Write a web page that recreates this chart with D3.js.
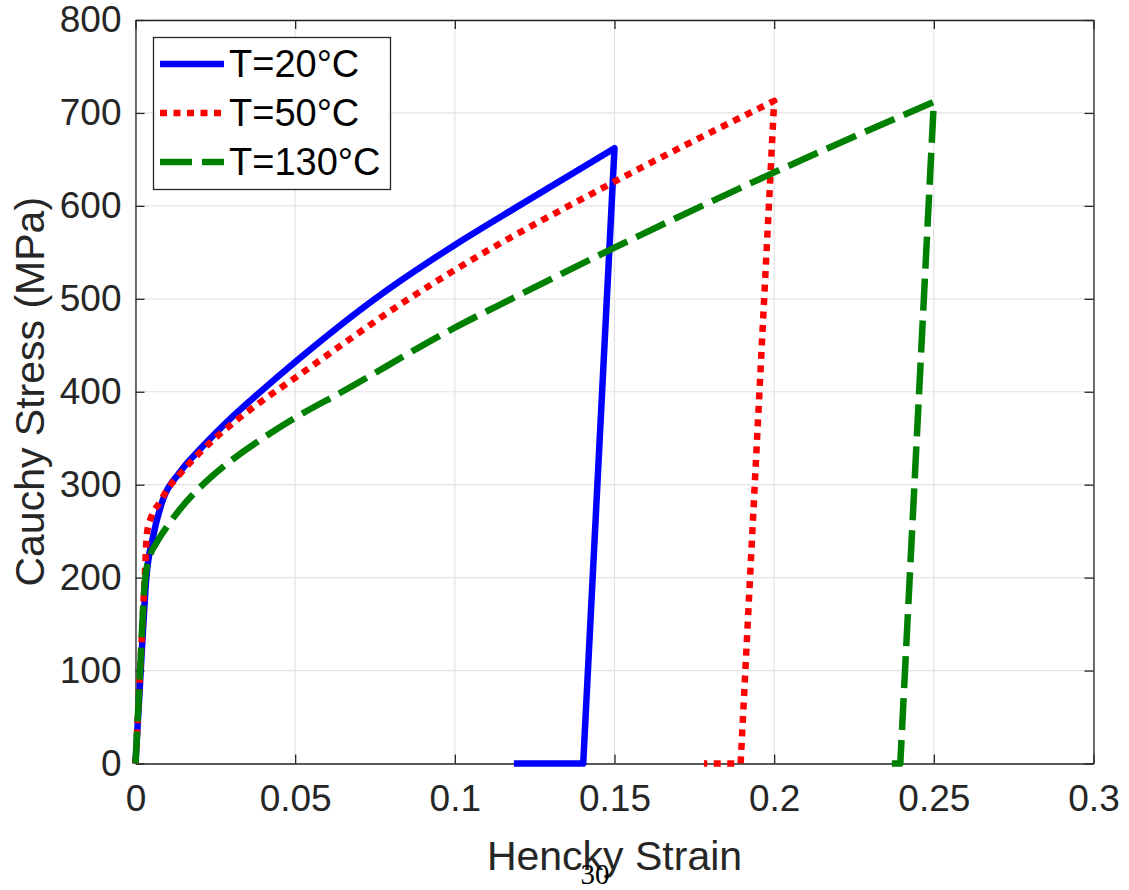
<!DOCTYPE html>
<html>
<head>
<meta charset="utf-8">
<script src="https://cdn.jsdelivr.net/npm/d3@7"></script>
<style>
  html, body { margin: 0; padding: 0; background: #ffffff; }
  svg { display: block; }
</style>
</head>
<body>
<script>
// ---------------- data ----------------
const xTicks = [0, 0.05, 0.1, 0.15, 0.2, 0.25, 0.3];
const xTickLabels = ["0", "0.05", "0.1", "0.15", "0.2", "0.25", "0.3"];
const yTicks = [0, 100, 200, 300, 400, 500, 600, 700, 800];
const yTickLabels = ["0", "100", "200", "300", "400", "500", "600", "700", "800"];

const seriesNames = ["T=20°C", "T=50°C", "T=130°C"];

// loading branch up to the peak, then unloading points
const strain20 = [0, 0.0018, 0.0034, 0.0055, 0.0086, 0.0138, 0.021, 0.0294, 0.0388, 0.05, 0.075, 0.1, 0.12, 0.15, 0.1402, 0.1185];
const stress20 = [0, 110, 200, 244, 284, 313, 341, 370, 399, 432, 500, 558, 600, 662, 0, 0];

const strain50 = [0, 0.0016, 0.0029, 0.0036, 0.005, 0.0076, 0.01, 0.0133, 0.02, 0.0315, 0.0388, 0.05, 0.0856, 0.1, 0.15, 0.2, 0.1895, 0.178];
const stress50 = [0, 110, 201, 248, 266, 281, 295, 309, 334, 369, 388, 415, 500, 531, 626, 713, 0, 0];

const strain130 = [0, 0.0013, 0.003, 0.0045, 0.0065, 0.0097, 0.0138, 0.022, 0.0315, 0.0377, 0.05, 0.0647, 0.1, 0.1178, 0.15, 0.2, 0.25, 0.2395, 0.2365];
const stress130 = [0, 90, 198, 223, 237, 254, 273, 303, 330, 345, 372, 400, 469, 500, 555, 636, 712, 0, 0];

const seriesColors = ["#0000ff", "#ff0000", "#008000"];
const seriesDash = [null, "7,6.5", "32,10"];

// ---------------- layout ----------------
const W = 1129, H = 890;
const mLeft = 135.5, mRight = 1093.5, mTop = 20, mBottom = 763.5;
const textColor = "#262626";
const font = "'Liberation Sans', Arial, Helvetica, sans-serif";

const svg = d3.select("body").append("svg")
  .attr("width", W).attr("height", H)
  .attr("viewBox", `0 0 ${W} ${H}`);

const x = d3.scaleLinear().domain([0, 0.3]).range([mLeft, mRight]);
const y = d3.scaleLinear().domain([0, 800]).range([mBottom, mTop]);

// grid
const grid = svg.append("g");
grid.selectAll("line.gx").data(xTicks).enter().append("line")
  .attr("x1", d => x(d)).attr("x2", d => x(d))
  .attr("y1", mTop).attr("y2", mBottom)
  .attr("stroke", "#e3e3e3").attr("stroke-width", 1.2);
grid.selectAll("line.gy").data(yTicks).enter().append("line")
  .attr("x1", mLeft).attr("x2", mRight)
  .attr("y1", d => y(d)).attr("y2", d => y(d))
  .attr("stroke", "#e3e3e3").attr("stroke-width", 1.2);

// axes (ticks inward)
const tickLen = 9;
const xAxis = d3.axisBottom(x).tickValues(xTicks)
  .tickFormat((d, i) => xTickLabels[i]).tickSizeInner(-tickLen).tickSizeOuter(0).tickPadding(21);
const yAxis = d3.axisLeft(y).tickValues(yTicks)
  .tickFormat((d, i) => yTickLabels[i]).tickSizeInner(-tickLen).tickSizeOuter(0).tickPadding(14);
const xTopAxis = d3.axisTop(x).tickValues(xTicks).tickFormat("").tickSizeInner(-tickLen).tickSizeOuter(0);
const yRightAxis = d3.axisRight(y).tickValues(yTicks).tickFormat("").tickSizeInner(-tickLen).tickSizeOuter(0);

function styleAxis(g) {
  g.selectAll("path").attr("stroke", textColor).attr("stroke-width", 1.3);
  g.selectAll("line").attr("stroke", textColor).attr("stroke-width", 1.3);
  g.selectAll("text").attr("fill", textColor).style("font-family", font).style("font-size", "37px");
}

svg.append("g").attr("transform", `translate(0,${mBottom})`).call(xAxis).call(styleAxis);
svg.append("g").attr("transform", `translate(${mLeft},0)`).call(yAxis).call(styleAxis);
svg.append("g").attr("transform", `translate(0,${mTop})`).call(xTopAxis).call(styleAxis);
svg.append("g").attr("transform", `translate(${mRight},0)`).call(yRightAxis).call(styleAxis);

// series
const seriesData = [
  strain20.map((s, i) => [s, stress20[i]]),
  strain50.map((s, i) => [s, stress50[i]]),
  strain130.map((s, i) => [s, stress130[i]])
];
const smooth = d3.line().x(d => x(d[0])).y(d => y(d[1])).curve(d3.curveMonotoneX);

function seriesPath(data) {
  // peak = point of largest strain; loading branch smooth, unloading straight
  let peak = 0;
  data.forEach((d, i) => { if (d[0] > data[peak][0]) peak = i; });
  const load = data.slice(0, peak + 1);
  const unload = data.slice(peak + 1);
  return smooth(load) + unload.map(d => `L${x(d[0])},${y(d[1])}`).join("");
}

seriesData.forEach((data, i) => {
  const p = svg.append("path")
    .attr("d", seriesPath(data))
    .attr("fill", "none")
    .attr("stroke", seriesColors[i])
    .attr("stroke-width", 6.5)
    .attr("stroke-linejoin", "round")
    .attr("stroke-linecap", "butt");
  if (seriesDash[i]) p.attr("stroke-dasharray", seriesDash[i]);
});

// axis labels
svg.append("text")
  .attr("x", (mLeft + mRight) / 2).attr("y", 870)
  .attr("text-anchor", "middle")
  .attr("fill", textColor)
  .style("font-family", font).style("font-size", "41px")
  .text("Hencky Strain");

svg.append("text")
  .attr("transform", `translate(44,${(mTop + mBottom) / 2}) rotate(-90)`)
  .attr("text-anchor", "middle")
  .attr("fill", textColor)
  .style("font-family", font).style("font-size", "41px")
  .text("Cauchy Stress (MPa)");

// page number artifact
svg.append("text")
  .attr("x", 595).attr("y", 884)
  .attr("text-anchor", "middle")
  .attr("fill", "#000")
  .style("font-family", "'Liberation Serif', 'DejaVu Serif', serif")
  .style("font-size", "29px")
  .text("30");

// legend
const lg = svg.append("g");
lg.append("rect")
  .attr("x", 153.5).attr("y", 37.5).attr("width", 237).attr("height", 152)
  .attr("fill", "#fff").attr("stroke", textColor).attr("stroke-width", 1.3);
const legendY = [64, 113, 162];
seriesNames.forEach((name, i) => {
  const l = lg.append("line")
    .attr("x1", 160).attr("x2", 224)
    .attr("y1", legendY[i]).attr("y2", legendY[i])
    .attr("stroke", seriesColors[i]).attr("stroke-width", 6.5);
  if (seriesDash[i]) l.attr("stroke-dasharray", seriesDash[i]);
  lg.append("text")
    .attr("x", 229).attr("y", legendY[i] + 13)
    .attr("fill", "#000")
    .style("font-family", font).style("font-size", "38px")
    .text(name);
});
</script>
</body>
</html>
